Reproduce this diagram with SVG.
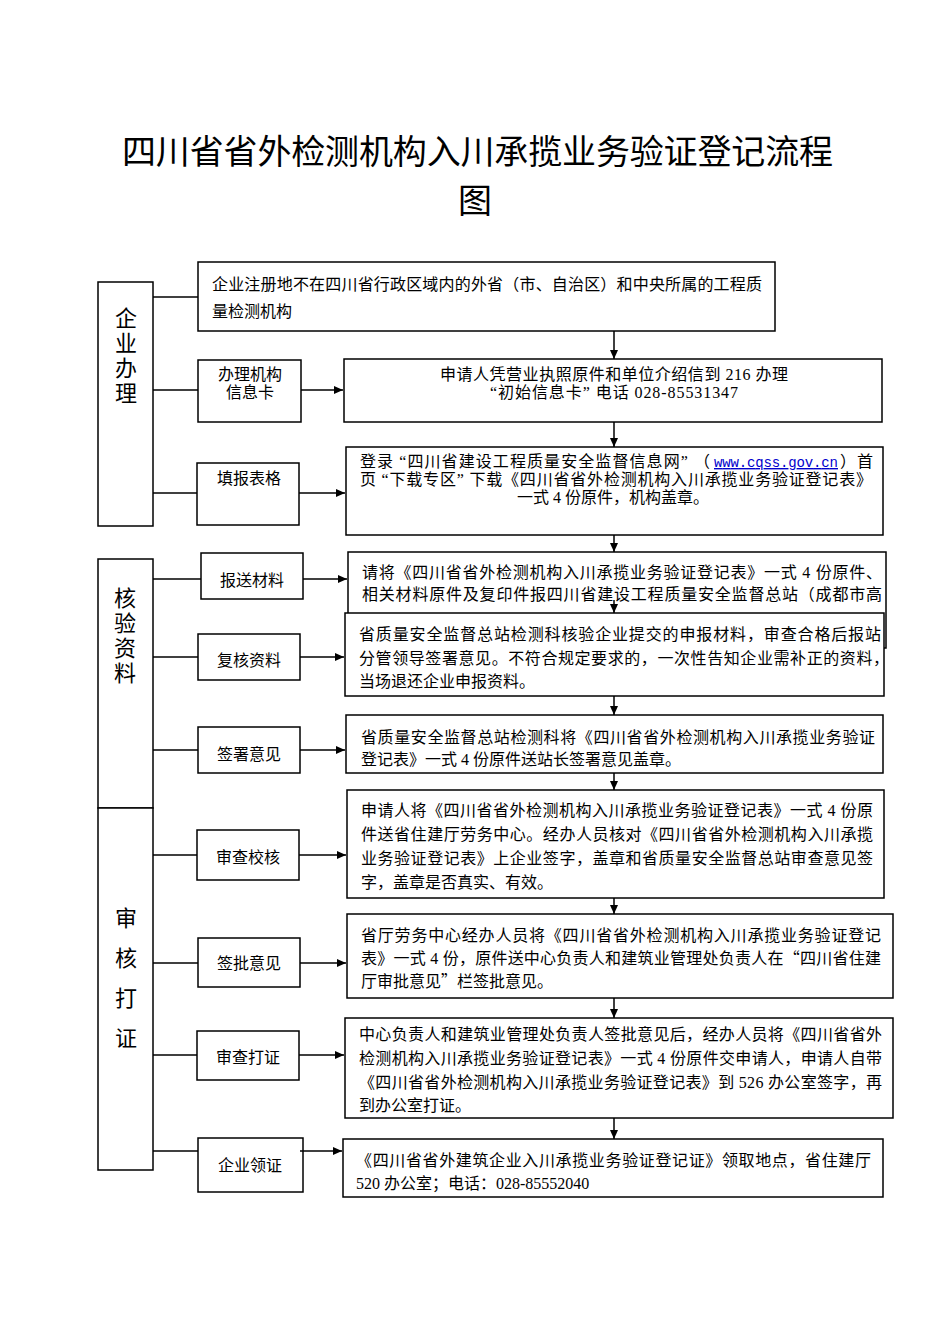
<svg xmlns="http://www.w3.org/2000/svg" width="950" height="1344" viewBox="0 0 950 1344">
<style>
.bg{fill:#fff}
.box{fill:#fff;stroke:#000;stroke-width:1.5}
.t{font-family:"Liberation Serif","Noto Sans CJK SC",serif;font-size:16px;fill:#000}
.q{font-family:"Noto Sans CJK SC",sans-serif}
.c{text-anchor:middle}
.lab{font-family:"Liberation Sans","Noto Sans CJK SC",sans-serif;font-size:22px;fill:#000;text-anchor:middle}
.title{font-family:"Noto Sans CJK SC",sans-serif;font-size:34px;fill:#000}
.url{font-family:"Liberation Mono",monospace;font-size:14px;fill:#0000cc;text-decoration:underline}
.ln{stroke:#000;stroke-width:1.5;fill:none}
.ar{stroke:#000;stroke-width:1.5;fill:none;marker-end:url(#ah)}
</style>
<defs>
<marker id="ah" markerWidth="10" markerHeight="10" refX="9" refY="4.5" orient="auto" markerUnits="userSpaceOnUse">
<path d="M0,0.5 L9,4.5 L0,8.5 z" fill="#000"/>
</marker>
</defs>
<rect class="bg" x="0" y="0" width="950" height="1344"/>

<g id="title">
<text class="title" x="122" y="164" textLength="711" lengthAdjust="spacing">四川省省外检测机构入川承揽业务验证登记流程</text>
<text class="title" x="475" y="213" text-anchor="middle">图</text>
</g>

<g id="stage-qiye">
<rect class="box" x="98" y="282" width="55" height="244"/>
<text class="lab" x="126" y="326">企</text>
<text class="lab" x="126" y="351">业</text>
<text class="lab" x="126" y="376">办</text>
<text class="lab" x="126" y="401">理</text>
</g>
<g id="stage-heyan">
<rect class="box" x="98" y="559" width="55" height="249"/>
<text class="lab" x="125" y="606">核</text>
<text class="lab" x="125" y="631">验</text>
<text class="lab" x="125" y="656">资</text>
<text class="lab" x="125" y="681">料</text>
</g>
<g id="stage-shenhe">
<rect class="box" x="98" y="808" width="55" height="362"/>
<text class="lab" x="126" y="926">审</text>
<text class="lab" x="126" y="966">核</text>
<text class="lab" x="126" y="1006">打</text>
<text class="lab" x="126" y="1046">证</text>
</g>

<g id="n-intro">
<rect class="box" x="198" y="262" width="577" height="69"/>
<text class="t" x="212" y="290" textLength="550" lengthAdjust="spacing">企业注册地不在四川省行政区域内的外省（市、自治区）和中央所属的工程质</text>
<text class="t" x="212" y="317">量检测机构</text>
</g>

<g id="s-xinxika">
<rect class="box" x="198" y="360" width="103" height="62"/>
<text class="t c" x="250" y="380">办理机构</text>
<text class="t c" x="250" y="398">信息卡</text>
</g>
<g id="n-xinxika">
<rect class="box" x="344" y="359" width="538" height="63"/>
<text class="t c" x="614" y="380" textLength="348" lengthAdjust="spacing">申请人凭营业执照原件和单位介绍信到 216 办理</text>
<text class="t c" x="614" y="398" textLength="248" lengthAdjust="spacing"> “初始信息卡” 电话 028-85531347</text>
</g>

<g id="s-tianbao">
<rect class="box" x="197" y="463" width="102" height="62"/>
<text class="t c" x="249" y="484">填报表格</text>
</g>
<g id="n-tianbao">
<rect class="box" x="346" y="447" width="537" height="88"/>
<text class="t" x="360" y="467" textLength="350" lengthAdjust="spacing">登录 “四川省建设工程质量安全监督信息网” （</text>
<text class="url" x="714" y="467" textLength="124" lengthAdjust="spacing">www.cqss.gov.cn</text>
<text class="t" x="840" y="467" textLength="33" lengthAdjust="spacing">）首</text>
<text class="t" x="360" y="485" textLength="512" lengthAdjust="spacing">页 “下载专区” 下载《四川省省外检测机构入川承揽业务验证登记表》</text>
<text class="t c" x="613" y="503">一式 4 份原件，机构盖章。</text>
</g>

<g id="s-baosong">
<rect class="box" x="201" y="553" width="102" height="46"/>
<text class="t c" x="252" y="586">报送材料</text>
</g>
<g id="n-baosong">
<rect class="box" x="348" y="552" width="538" height="96"/>
<text class="t" x="362" y="578" textLength="520" lengthAdjust="spacing">请将《四川省省外检测机构入川承揽业务验证登记表》一式 4 份原件、</text>
<text class="t" x="362" y="600" textLength="520" lengthAdjust="spacing">相关材料原件及复印件报四川省建设工程质量安全监督总站（成都市高</text>
</g>

<g id="s-fuhe">
<rect class="box" x="198" y="634" width="102" height="46"/>
<text class="t c" x="249" y="666">复核资料</text>
</g>
<g id="n-fuhe">
<rect class="box" x="345" y="613" width="539" height="83"/>
<text class="t" x="359" y="640" textLength="522" lengthAdjust="spacing">省质量安全监督总站检测科核验企业提交的申报材料，审查合格后报站</text>
<text class="t" x="359" y="664" textLength="530" lengthAdjust="spacing">分管领导签署意见。不符合规定要求的，一次性告知企业需补正的资料，</text>
<text class="t" x="359" y="687">当场退还企业申报资料。</text>
</g>

<g id="s-qianshu">
<rect class="box" x="198" y="727" width="102" height="46"/>
<text class="t c" x="249" y="760">签署意见</text>
</g>
<g id="n-qianshu">
<rect class="box" x="346" y="715" width="537" height="58"/>
<text class="t" x="361" y="743" textLength="514" lengthAdjust="spacing">省质量安全监督总站检测科将《四川省省外检测机构入川承揽业务验证</text>
<text class="t" x="361" y="765">登记表》一式 4 份原件送站长签署意见盖章。</text>
</g>

<g id="s-shencha">
<rect class="box" x="197" y="830" width="102" height="50"/>
<text class="t c" x="248" y="863">审查校核</text>
</g>
<g id="n-shencha">
<rect class="box" x="347" y="790" width="537" height="108"/>
<text class="t" x="361" y="816" textLength="512" lengthAdjust="spacing">申请人将《四川省省外检测机构入川承揽业务验证登记表》一式 4 份原</text>
<text class="t" x="361" y="840" textLength="512" lengthAdjust="spacing">件送省住建厅劳务中心。经办人员核对《四川省省外检测机构入川承揽</text>
<text class="t" x="361" y="864" textLength="512" lengthAdjust="spacing">业务验证登记表》上企业签字，盖章和省质量安全监督总站审查意见签</text>
<text class="t" x="361" y="888">字，盖章是否真实、有效。</text>
</g>

<g id="s-qianpi">
<rect class="box" x="198" y="938" width="102" height="49"/>
<text class="t c" x="249" y="969">签批意见</text>
</g>
<g id="n-qianpi">
<rect class="box" x="347" y="914" width="546" height="84"/>
<text class="t" x="361" y="941" textLength="520" lengthAdjust="spacing">省厅劳务中心经办人员将《四川省省外检测机构入川承揽业务验证登记</text>
<text class="t" x="361" y="964" textLength="520" lengthAdjust="spacing">表》一式 4 份，原件送中心负责人和建筑业管理处负责人在<tspan class="q">“</tspan>四川省住建</text>
<text class="t" x="361" y="987">厅审批意见<tspan class="q">”</tspan>栏签批意见。</text>
</g>

<g id="s-dazheng">
<rect class="box" x="197" y="1031" width="102" height="49"/>
<text class="t c" x="248" y="1063">审查打证</text>
</g>
<g id="n-dazheng">
<rect class="box" x="345" y="1018" width="548" height="100"/>
<text class="t" x="359" y="1040" textLength="523" lengthAdjust="spacing">中心负责人和建筑业管理处负责人签批意见后，经办人员将《四川省省外</text>
<text class="t" x="359" y="1064" textLength="523" lengthAdjust="spacing">检测机构入川承揽业务验证登记表》一式 4 份原件交申请人，申请人自带</text>
<text class="t" x="359" y="1088" textLength="523" lengthAdjust="spacing">《四川省省外检测机构入川承揽业务验证登记表》到 526 办公室签字，再</text>
<text class="t" x="359" y="1111">到办公室打证。</text>
</g>

<g id="s-lingzheng">
<rect class="box" x="198" y="1138" width="105" height="54"/>
<text class="t c" x="250" y="1171">企业领证</text>
</g>
<g id="n-lingzheng">
<rect class="box" x="343" y="1139" width="540" height="58"/>
<text class="t" x="356" y="1166" textLength="515" lengthAdjust="spacing">《四川省省外建筑企业入川承揽业务验证登记证》领取地点，省住建厅</text>
<text class="t" x="356" y="1189">520 办公室；电话：028-85552040</text>
</g>

<g id="connectors">
<line class="ln" x1="153" y1="297" x2="198" y2="297"/>
<line class="ln" x1="153" y1="390" x2="198" y2="390"/>
<line class="ar" x1="301" y1="390" x2="343" y2="390"/>
<line class="ln" x1="153" y1="493" x2="197" y2="493"/>
<line class="ar" x1="299" y1="493" x2="345" y2="493"/>
<line class="ln" x1="153" y1="579" x2="201" y2="579"/>
<line class="ar" x1="303" y1="579" x2="347" y2="579"/>
<line class="ln" x1="153" y1="657" x2="198" y2="657"/>
<line class="ar" x1="300" y1="657" x2="344" y2="657"/>
<line class="ln" x1="153" y1="750" x2="198" y2="750"/>
<line class="ar" x1="300" y1="750" x2="345" y2="750"/>
<line class="ln" x1="153" y1="855" x2="197" y2="855"/>
<line class="ar" x1="299" y1="855" x2="346" y2="855"/>
<line class="ln" x1="153" y1="963" x2="198" y2="963"/>
<line class="ar" x1="300" y1="963" x2="346" y2="963"/>
<line class="ln" x1="153" y1="1055" x2="197" y2="1055"/>
<line class="ar" x1="299" y1="1055" x2="344" y2="1055"/>
<line class="ln" x1="153" y1="1151" x2="198" y2="1151"/>
<line class="ar" x1="300" y1="1151" x2="342" y2="1151"/>
<line class="ar" x1="614" y1="331" x2="614" y2="359"/>
<line class="ar" x1="614" y1="422" x2="614" y2="447"/>
<line class="ar" x1="614" y1="535" x2="614" y2="552"/>
<line class="ar" x1="614" y1="600" x2="614" y2="613"/>
<line class="ar" x1="614" y1="696" x2="614" y2="715"/>
<line class="ar" x1="614" y1="773" x2="614" y2="790"/>
<line class="ar" x1="614" y1="898" x2="614" y2="914"/>
<line class="ar" x1="614" y1="998" x2="614" y2="1018"/>
<line class="ar" x1="614" y1="1118" x2="614" y2="1139"/>
</g>
</svg>
